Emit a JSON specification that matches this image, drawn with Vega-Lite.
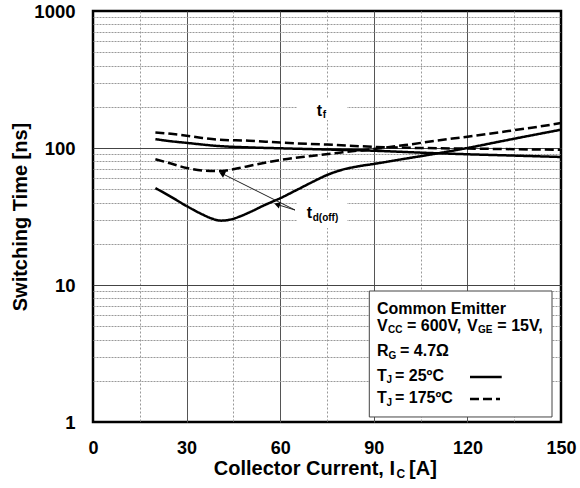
{
  "$schema": "https://vega.github.io/schema/vega-lite/v6.json",
  "width": 468,
  "height": 411,
  "autosize": {"type": "none"},
  "padding": {"left": 93, "top": 11, "right": 19, "bottom": 66},
  "background": "white",
  "config": {
    "font": "Liberation Sans",
    "view": {"stroke": "black", "strokeWidth": 2.5}
  },
  "datasets": {
    "curves": [
      {"x": 20, "y": 116, "s": "tf25", "temp": "25"},
      {"x": 25, "y": 112, "s": "tf25", "temp": "25"},
      {"x": 30, "y": 109, "s": "tf25", "temp": "25"},
      {"x": 35, "y": 106, "s": "tf25", "temp": "25"},
      {"x": 40, "y": 103.5, "s": "tf25", "temp": "25"},
      {"x": 50, "y": 101, "s": "tf25", "temp": "25"},
      {"x": 60, "y": 99.5, "s": "tf25", "temp": "25"},
      {"x": 75, "y": 97.5, "s": "tf25", "temp": "25"},
      {"x": 90, "y": 95.5, "s": "tf25", "temp": "25"},
      {"x": 105, "y": 92.5, "s": "tf25", "temp": "25"},
      {"x": 120, "y": 90, "s": "tf25", "temp": "25"},
      {"x": 135, "y": 88, "s": "tf25", "temp": "25"},
      {"x": 150, "y": 86, "s": "tf25", "temp": "25"},
      {"x": 20, "y": 130, "s": "tf175", "temp": "175"},
      {"x": 25, "y": 127, "s": "tf175", "temp": "175"},
      {"x": 30, "y": 123, "s": "tf175", "temp": "175"},
      {"x": 35, "y": 118.5, "s": "tf175", "temp": "175"},
      {"x": 40, "y": 115, "s": "tf175", "temp": "175"},
      {"x": 50, "y": 113, "s": "tf175", "temp": "175"},
      {"x": 60, "y": 109.5, "s": "tf175", "temp": "175"},
      {"x": 75, "y": 106, "s": "tf175", "temp": "175"},
      {"x": 90, "y": 102, "s": "tf175", "temp": "175"},
      {"x": 105, "y": 100, "s": "tf175", "temp": "175"},
      {"x": 120, "y": 99, "s": "tf175", "temp": "175"},
      {"x": 135, "y": 98, "s": "tf175", "temp": "175"},
      {"x": 150, "y": 97, "s": "tf175", "temp": "175"},
      {"x": 20, "y": 51, "s": "td25", "temp": "25"},
      {"x": 25, "y": 44, "s": "td25", "temp": "25"},
      {"x": 30, "y": 37.7, "s": "td25", "temp": "25"},
      {"x": 35, "y": 32.8, "s": "td25", "temp": "25"},
      {"x": 38, "y": 30.6, "s": "td25", "temp": "25"},
      {"x": 41, "y": 29.5, "s": "td25", "temp": "25"},
      {"x": 44, "y": 30.0, "s": "td25", "temp": "25"},
      {"x": 47, "y": 31.6, "s": "td25", "temp": "25"},
      {"x": 50, "y": 33.8, "s": "td25", "temp": "25"},
      {"x": 55, "y": 38.3, "s": "td25", "temp": "25"},
      {"x": 60, "y": 43, "s": "td25", "temp": "25"},
      {"x": 65, "y": 49, "s": "td25", "temp": "25"},
      {"x": 70, "y": 56, "s": "td25", "temp": "25"},
      {"x": 75, "y": 63.5, "s": "td25", "temp": "25"},
      {"x": 80, "y": 69.5, "s": "td25", "temp": "25"},
      {"x": 85, "y": 73.5, "s": "td25", "temp": "25"},
      {"x": 90, "y": 76.5, "s": "td25", "temp": "25"},
      {"x": 100, "y": 83.5, "s": "td25", "temp": "25"},
      {"x": 110, "y": 91, "s": "td25", "temp": "25"},
      {"x": 120, "y": 100, "s": "td25", "temp": "25"},
      {"x": 130, "y": 111, "s": "td25", "temp": "25"},
      {"x": 140, "y": 123, "s": "td25", "temp": "25"},
      {"x": 150, "y": 136, "s": "td25", "temp": "25"},
      {"x": 20, "y": 82.7, "s": "td175", "temp": "175"},
      {"x": 25, "y": 77, "s": "td175", "temp": "175"},
      {"x": 30, "y": 71.5, "s": "td175", "temp": "175"},
      {"x": 35, "y": 68.5, "s": "td175", "temp": "175"},
      {"x": 40, "y": 67.8, "s": "td175", "temp": "175"},
      {"x": 45, "y": 70, "s": "td175", "temp": "175"},
      {"x": 50, "y": 74, "s": "td175", "temp": "175"},
      {"x": 60, "y": 81.7, "s": "td175", "temp": "175"},
      {"x": 70, "y": 87.5, "s": "td175", "temp": "175"},
      {"x": 80, "y": 93, "s": "td175", "temp": "175"},
      {"x": 90, "y": 98.5, "s": "td175", "temp": "175"},
      {"x": 100, "y": 105, "s": "td175", "temp": "175"},
      {"x": 110, "y": 113, "s": "td175", "temp": "175"},
      {"x": 120, "y": 121, "s": "td175", "temp": "175"},
      {"x": 130, "y": 130, "s": "td175", "temp": "175"},
      {"x": 140, "y": 140, "s": "td175", "temp": "175"},
      {"x": 150, "y": 152, "s": "td175", "temp": "175"}
    ],
    "labelBoxes": [
      {"x": 65.38, "x2": 81.41, "y": 160, "y2": 231.6},
      {"x": 65.38, "x2": 81.41, "y": 26.1, "y2": 41.7}
    ],
    "legendBox": [
      {"x": 88.56, "x2": 147.12, "y": 1.088, "y2": 9.04}
    ],
    "samples": [
      {"x": 120.83, "x2": 131.0, "y": 2.13, "temp": "25"},
      {"x": 120.83, "x2": 130.45, "y": 1.472, "temp": "175"}
    ],
    "arrows": [
      {"x": 64.74, "y": 35.27, "x2": 41.31, "y2": 65.2},
      {"x": 64.74, "y": 35.27, "x2": 59.0, "y2": 38.7}
    ],
    "head1": [{"x": 41.31, "y": 65.2}],
    "head2": [{"x": 59.0, "y": 38.7}],
    "mainText": [
      {"x": 91.03, "y": 6.11, "t": "Common Emitter"},
      {"x": 91.03, "y": 4.615, "t": "V"},
      {"x": 100.64, "y": 4.615, "t": "= 600V,"},
      {"x": 119.87, "y": 4.615, "t": "V"},
      {"x": 129.6, "y": 4.615, "t": "= 15V,"},
      {"x": 91.03, "y": 3.032, "t": "R"},
      {"x": 98.4, "y": 3.032, "t": "= 4.7Ω"},
      {"x": 91.03, "y": 1.992, "t": "T"},
      {"x": 96.8, "y": 1.992, "t": "= 25ºC"},
      {"x": 91.03, "y": 1.369, "t": "T"},
      {"x": 96.8, "y": 1.369, "t": "= 175ºC"},
      {"x": 71.7, "y": 171.2, "t": "t"},
      {"x": 68.49, "y": 30.68, "t": "t"}
    ],
    "subText": [
      {"x": 94.55, "y": 4.426, "t": "CC"},
      {"x": 123.4, "y": 4.426, "t": "GE"},
      {"x": 94.71, "y": 2.884, "t": "G"},
      {"x": 94.07, "y": 1.91, "t": "J"},
      {"x": 94.07, "y": 1.309, "t": "J"},
      {"x": 73.62, "y": 164.2, "t": "f"},
      {"x": 70.42, "y": 29.32, "t": "d(off)"}
    ],
    "xTitleMain": [{"x": 96.79, "y": 0.4103, "t": "Collector Current, I"}],
    "xTitleSub": [{"x": 97.3, "y": 0.3903, "t": "C"}],
    "xTitleEnd": [{"x": 101.3, "y": 0.4103, "t": "[A]"}]
  },
  "encoding": {
    "x": {
      "field": "x",
      "type": "quantitative",
      "scale": {"domain": [0, 150], "nice": false, "zero": false},
      "axis": {
        "title": null,
        "values": [0, 15, 30, 45, 60, 75, 90, 105, 120, 135, 150],
        "labelExpr": "datum.value % 30 === 0 ? datum.label : ''",
        "grid": true,
        "ticks": false,
        "tickSize": 0,
        "domain": false,
        "labelFont": "Liberation Sans",
        "labelFontWeight": "bold",
        "labelFontSize": 18,
        "labelColor": "black",
        "labelBaseline": "alphabetic",
        "labelPadding": 31,
        "labelOverlap": false,
        "labelFlush": false,
        "gridColor": {"condition": {"test": "datum.value % 30 === 0", "value": "#555"}, "value": "#999"},
        "gridDash": {"condition": {"test": "datum.value % 30 === 0", "value": []}, "value": [2, 2]},
        "gridOpacity": {"condition": {"test": "datum.value === 0 || datum.value === 150", "value": 0}, "value": 1}
      }
    },
    "y": {
      "field": "y",
      "type": "quantitative",
      "scale": {"type": "log", "domain": [1, 1000], "nice": false},
      "axis": {
        "title": "Switching Time [ns]",
        "values": [1, 2, 3, 4, 5, 6, 7, 8, 9, 10, 20, 30, 40, 50, 60, 70, 80, 90, 100, 200, 300, 400, 500, 600, 700, 800, 900, 1000],
        "labelExpr": "datum.value === 1 ? '1' : datum.value === 10 ? '10' : datum.value === 100 ? '100' : datum.value === 1000 ? '1000' : ''",
        "grid": true,
        "ticks": false,
        "tickSize": 0,
        "domain": false,
        "labelFont": "Liberation Sans",
        "labelFontWeight": "bold",
        "labelFontSize": 18.5,
        "labelColor": "black",
        "labelBaseline": "middle",
        "labelPadding": 18,
        "labelOverlap": false,
        "labelFlush": false,
        "titleFont": "Liberation Sans",
        "titleFontWeight": "bold",
        "titleFontSize": 20,
        "titleColor": "black",
        "titleX": -67,
        "titleY": 205.5,
        "titleAngle": 270,
        "titleBaseline": "alphabetic",
        "titleAlign": "center",
        "gridColor": {"condition": {"test": "datum.value === 10 || datum.value === 100", "value": "#444"}, "value": "#999"},
        "gridDash": {"condition": {"test": "datum.value === 10 || datum.value === 100", "value": []}, "value": [2, 1]},
        "gridOpacity": {"condition": {"test": "datum.value === 1 || datum.value === 1000", "value": 0}, "value": 1}
      }
    }
  },
  "layer": [
    {
      "data": {"name": "labelBoxes"},
      "mark": {"type": "rect", "fill": "white", "stroke": null},
      "encoding": {"x2": {"field": "x2"}, "y2": {"field": "y2"}}
    },
    {
      "data": {"name": "legendBox"},
      "mark": {"type": "rect", "fill": "white", "stroke": "#444", "strokeWidth": 1},
      "encoding": {"x2": {"field": "x2"}, "y2": {"field": "y2"}}
    },
    {
      "data": {"name": "curves"},
      "mark": {"type": "line", "color": "black", "strokeWidth": 2.5, "interpolate": "monotone"},
      "encoding": {
        "detail": {"field": "s", "type": "nominal"},
        "strokeDash": {
          "field": "temp",
          "type": "nominal",
          "scale": {"domain": ["25", "175"], "range": [[1, 0], [9, 4]]},
          "legend": null
        }
      }
    },
    {
      "data": {"name": "samples"},
      "mark": {"type": "rule", "color": "black", "strokeWidth": 2.5},
      "encoding": {
        "x2": {"field": "x2"},
        "strokeDash": {"field": "temp", "type": "nominal", "legend": null}
      }
    },
    {
      "data": {"name": "arrows"},
      "mark": {"type": "rule", "color": "#222", "strokeWidth": 1},
      "encoding": {"x2": {"field": "x2"}, "y2": {"field": "y2"}}
    },
    {
      "data": {"name": "head1"},
      "mark": {"type": "point", "shape": "triangle-up", "filled": true, "color": "black", "opacity": 1, "size": 45, "angle": 296.6}
    },
    {
      "data": {"name": "head2"},
      "mark": {"type": "point", "shape": "triangle-up", "filled": true, "color": "black", "opacity": 1, "size": 45, "angle": 287.2}
    },
    {
      "data": {"name": "mainText"},
      "mark": {"type": "text", "align": "left", "baseline": "alphabetic", "fontSize": 16, "fontWeight": "bold", "font": "Liberation Sans", "color": "black"},
      "encoding": {"text": {"field": "t", "type": "nominal"}}
    },
    {
      "data": {"name": "subText"},
      "mark": {"type": "text", "align": "left", "baseline": "alphabetic", "fontSize": 10, "fontWeight": "bold", "font": "Liberation Sans", "color": "black"},
      "encoding": {"text": {"field": "t", "type": "nominal"}}
    },
    {
      "data": {"name": "xTitleMain"},
      "mark": {"type": "text", "align": "right", "baseline": "alphabetic", "fontSize": 20, "fontWeight": "bold", "font": "Liberation Sans", "color": "black"},
      "encoding": {"text": {"field": "t", "type": "nominal"}}
    },
    {
      "data": {"name": "xTitleSub"},
      "mark": {"type": "text", "align": "left", "baseline": "alphabetic", "fontSize": 12, "fontWeight": "bold", "font": "Liberation Sans", "color": "black"},
      "encoding": {"text": {"field": "t", "type": "nominal"}}
    },
    {
      "data": {"name": "xTitleEnd"},
      "mark": {"type": "text", "align": "left", "baseline": "alphabetic", "fontSize": 20, "fontWeight": "bold", "font": "Liberation Sans", "color": "black"},
      "encoding": {"text": {"field": "t", "type": "nominal"}}
    }
  ]
}
